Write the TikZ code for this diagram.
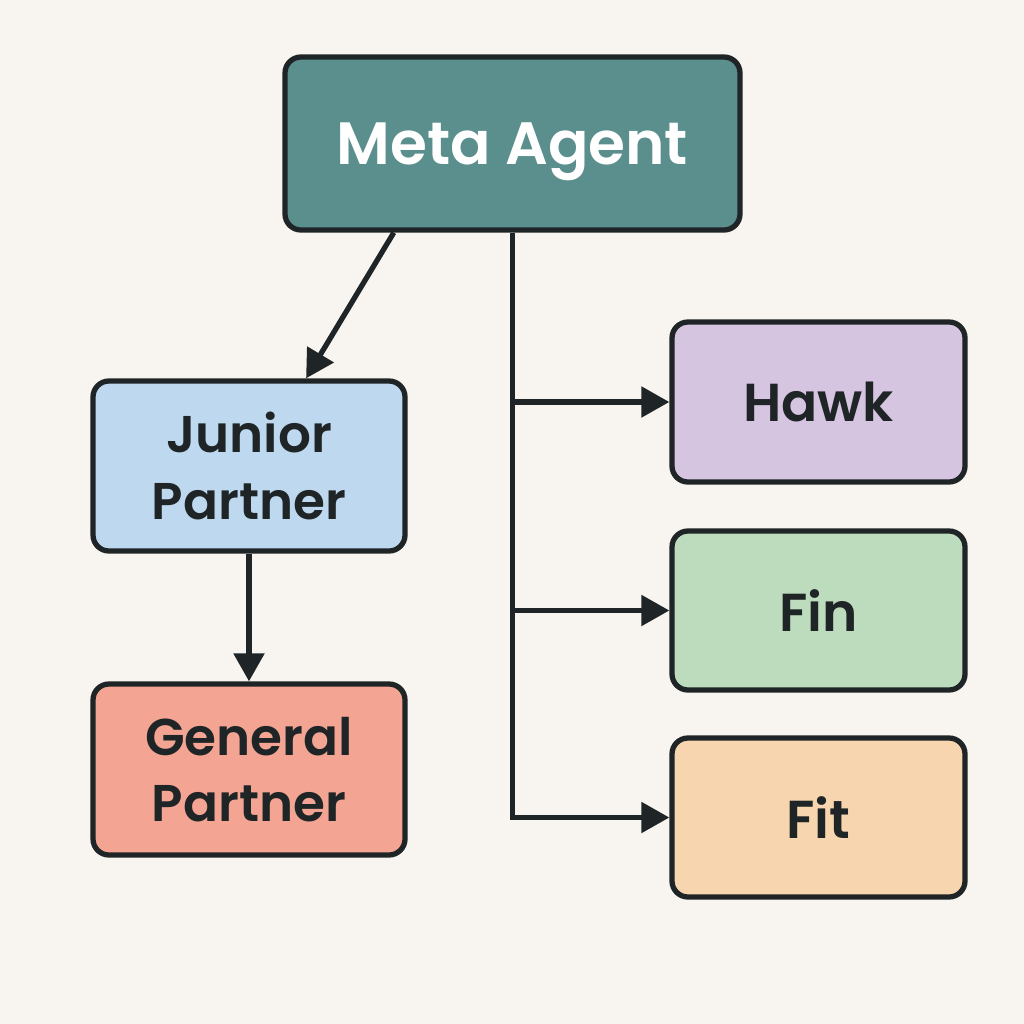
\documentclass[tikz,border=0pt]{standalone}
\usepackage{fontspec}
\setmainfont{Poppins}[BoldFont={Poppins SemiBold}]
\usetikzlibrary{arrows.meta,calc}
\definecolor{bgcream}{HTML}{F8F4EF}
\definecolor{inkdark}{HTML}{1F2526}
\definecolor{metateal}{HTML}{5A8F8E}
\definecolor{juniorblue}{HTML}{BED9EF}
\definecolor{generalred}{HTML}{F4A493}
\definecolor{hawkviolet}{HTML}{D6C5E0}
\definecolor{fingreen}{HTML}{BDDBBD}
\definecolor{fitpeach}{HTML}{F7D5AE}
\begin{document}
\begin{tikzpicture}[
  agent/.style={draw=inkdark,line width=1.5pt,rounded corners=0.16cm,
    align=center,text=inkdark,font=\fontsize{14.7}{19}\selectfont\bfseries},
  link/.style={draw=inkdark,line width=1.5pt,-{Triangle[length=0.28cm,width=0.3cm]}}]
\fill[bgcream] (0,0) rectangle (10.24,-10.24);
\useasboundingbox (0,0) rectangle (10.24,-10.24);
\node[agent,fill=metateal,text=white,minimum width=4.55cm,minimum height=1.73cm,
  text depth=0pt,font=\fontsize{17}{21}\selectfont\bfseries] (meta) at (5.125,-1.435) {Meta Agent};
\node[agent,fill=juniorblue,minimum width=3.12cm,minimum height=1.70cm]
  (junior) at (2.49,-4.66) {Junior\\Partner};
\node[agent,fill=generalred,minimum width=3.12cm,minimum height=1.71cm]
  (general) at (2.49,-7.695) {General\\Partner};
\node[agent,fill=hawkviolet,minimum width=2.93cm,minimum height=1.60cm,
  font=\fontsize{15.2}{19}\selectfont\bfseries] (hawk) at (8.185,-4.02) {Hawk};
\node[agent,fill=fingreen,minimum width=2.93cm,minimum height=1.59cm,
  font=\fontsize{15.2}{19}\selectfont\bfseries] (fin) at (8.185,-6.105) {Fin};
\node[agent,fill=fitpeach,minimum width=2.93cm,minimum height=1.59cm,
  font=\fontsize{15.2}{19}\selectfont\bfseries] (fit) at (8.185,-8.175) {Fit};
% left branch
\draw[link] ($(meta.south west)!0.242!(meta.south east)$)
  -- ($(junior.north west)!0.68!(junior.north east)$);
\draw[link] (junior) -- (general);
% trunk to the right
\draw[link] (meta.south) -- (meta.south |- fit.west) -- (fit.west);
\draw[link] (meta.south |- hawk.west) -- (hawk.west);
\draw[link] (meta.south |- fin.west) -- (fin.west);
\end{tikzpicture}
\end{document}
